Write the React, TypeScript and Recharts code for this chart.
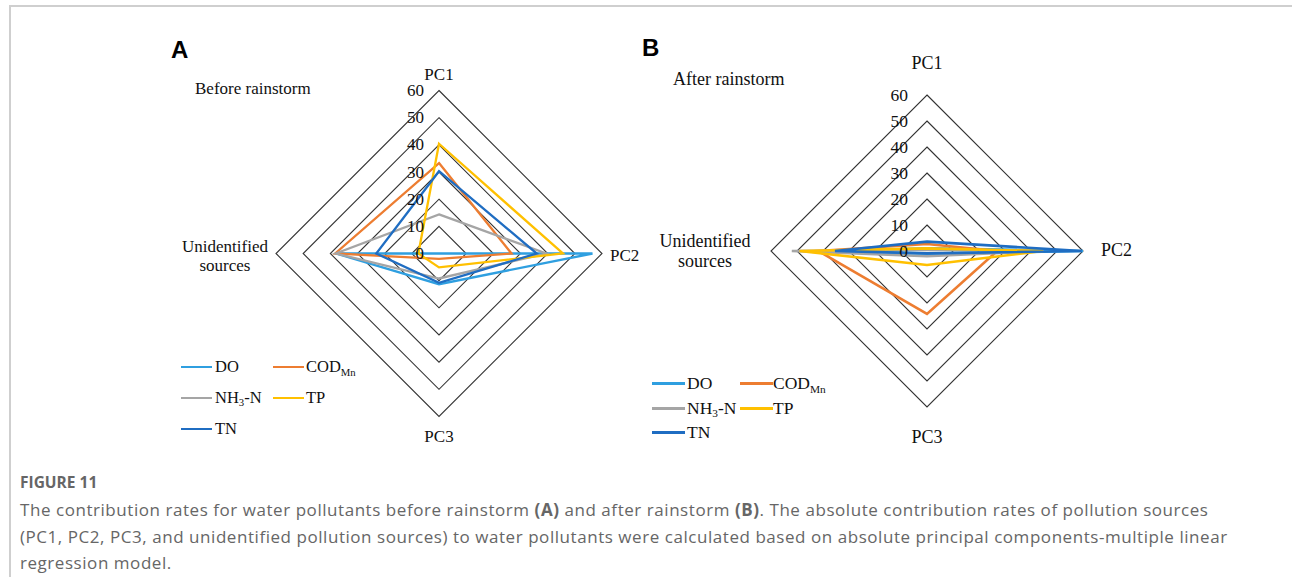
import React from 'react';
import { RadarChart, Radar, PolarGrid, PolarAngleAxis, PolarRadiusAxis, Legend } from 'recharts';

const categories = ['PC1', 'PC2', 'PC3', 'Unidentified sources'];
const radiusTicks = [0, 10, 20, 30, 40, 50, 60];
const seriesNames = ['DO', 'COD', 'NH3-N', 'TP', 'TN'];
const seriesColors = ['#2f9fe0', '#ed7d31', '#a5a5a5', '#ffc000', '#1f6dc2'];

// Before rainstorm (A): PC1, PC2, PC3, Unidentified
const beforeDO = [0, 56.5, 11.3, 38];
const beforeCOD = [33.3, 26.7, 2, 38.2];
const beforeNH3 = [14.4, 39.5, 9.2, 38];
const beforeTP = [40.4, 45.6, 5.1, 7.6];
const beforeTN = [30.3, 36, 10.8, 23.1];

// After rainstorm (B)
const afterDO = [1, 60, 1, 33];
const afterCOD = [2.7, 27, 24.2, 41.8];
const afterNH3 = [0.5, 45, 2, 52];
const afterTP = [1, 44.6, 5.4, 49];
const afterTN = [3.6, 59.5, 0.9, 35.4];

const FONT = '"Liberation Serif", "Times New Roman", serif';

function buildRows(series: number[][]) {
  return categories.map((c, i) => {
    const row: any = { axis: c };
    series.forEach((s, k) => {
      row['s' + k] = s[i];
    });
    return row;
  });
}

const dataA = buildRows([beforeDO, beforeCOD, beforeNH3, beforeTP, beforeTN]);
const dataB = buildRows([afterDO, afterCOD, afterNH3, afterTP, afterTN]);

type Geo = {
  cx: number;
  cy: number;
  r: number;
  fs: number;
  tickFs: number;
  tickGap: number;
  pc1Dy: number;
  pc2Dx: number;
  pc2Dy: number;
  pc3Dy: number;
  unDx: number;
  unDy1: number;
  unDy2: number;
};

const geoA: Geo = {
  cx: 439, cy: 253.5, r: 163, fs: 17, tickFs: 17, tickGap: 15,
  pc1Dy: -10.5, pc2Dx: 8, pc2Dy: 7, pc3Dy: 25, unDx: -51, unDy1: -2, unDy2: 17,
};
const geoB: Geo = {
  cx: 281, cy: 251, r: 156, fs: 18, tickFs: 17.5, tickGap: 19,
  pc1Dy: -26, pc2Dx: 18, pc2Dy: 5, pc3Dy: 36, unDx: -66, unDy1: -4, unDy2: 16,
};

function makeAngleTick(g: Geo) {
  return (props: any) => {
    const v = props.payload && props.payload.value;
    const common = { fontFamily: FONT, fontSize: g.fs, fill: '#111' };
    if (v === 'PC1') {
      return (
        <text x={g.cx} y={g.cy - g.r + g.pc1Dy} textAnchor="middle" {...common}>PC1</text>
      );
    }
    if (v === 'PC2') {
      return (
        <text x={g.cx + g.r + g.pc2Dx} y={g.cy + g.pc2Dy} textAnchor="start" {...common}>PC2</text>
      );
    }
    if (v === 'PC3') {
      return (
        <text x={g.cx} y={g.cy + g.r + g.pc3Dy} textAnchor="middle" {...common}>PC3</text>
      );
    }
    return (
      <text textAnchor="middle" {...common}>
        <tspan x={g.cx - g.r + g.unDx} y={g.cy + g.unDy1}>Unidentified</tspan>
        <tspan x={g.cx - g.r + g.unDx} y={g.cy + g.unDy2}>sources</tspan>
      </text>
    );
  };
}

function makeRadiusTick(g: Geo) {
  return (props: any) => (
    <text
      x={props.x - g.tickGap}
      y={props.y + 5.5}
      textAnchor="end"
      fontFamily={FONT}
      fontSize={g.tickFs}
      fill="#111"
    >
      {props.payload.value}
    </text>
  );
}

function LegendLabel({ name }: { name: string }) {
  if (name === 'COD') {
    return (
      <span>
        COD<span style={{ fontSize: '0.65em', position: 'relative', top: '0.35em' }}>Mn</span>
      </span>
    );
  }
  if (name === 'NH3-N') {
    return (
      <span>
        NH<span style={{ fontSize: '0.65em', position: 'relative', top: '0.3em' }}>3</span>-N
      </span>
    );
  }
  return <span>{name}</span>;
}

type LegendGeo = {
  lineX: number[];
  lineW: number;
  textX: number[];
  rowY: number[];
  sw: number;
  fs: number;
};

const legendA: LegendGeo = {
  lineX: [181, 273],
  lineW: 31,
  textX: [215, 306],
  rowY: [367, 398, 429],
  sw: 2.5,
  fs: 16.5,
};
const legendB: LegendGeo = {
  lineX: [6, 94],
  lineW: 33,
  textX: [41, 127],
  rowY: [383, 408, 432],
  sw: 3,
  fs: 17.5,
};

function makeLegend(lg: LegendGeo) {
  return () => (
    <div style={{ position: 'relative', width: 640, height: 450, fontFamily: FONT, fontSize: lg.fs, color: '#111' }}>
      {seriesNames.map((n, i) => {
        const col = i % 2;
        const row = Math.floor(i / 2);
        const y = lg.rowY[row];
        return (
          <React.Fragment key={n}>
            <div
              style={{
                position: 'absolute',
                left: lg.lineX[col],
                top: y - lg.sw / 2,
                width: lg.lineW,
                height: lg.sw,
                background: seriesColors[i],
              }}
            />
            <div
              style={{
                position: 'absolute',
                left: lg.textX[col],
                top: y - 10,
                lineHeight: '20px',
                whiteSpace: 'nowrap',
              }}
            >
              <LegendLabel name={n} />
            </div>
          </React.Fragment>
        );
      })}
    </div>
  );
}

function Panel({ data, g, lg, sw }: { data: any[]; g: Geo; lg: LegendGeo; sw: number }) {
  return (
    <RadarChart
      width={646}
      height={450}
      data={data}
      cx={g.cx}
      cy={g.cy}
      outerRadius={g.r}
      margin={{ top: 0, right: 0, bottom: 0, left: 0 }}
    >
      <PolarGrid gridType="polygon" radialLines={false} stroke="#333" strokeWidth={1.1} />
      <PolarAngleAxis dataKey="axis" tick={makeAngleTick(g)} tickLine={false} axisLine={false} />
      <PolarRadiusAxis
        angle={90}
        domain={[0, 60]}
        ticks={radiusTicks as any}
        tickCount={7}
        axisLine={false}
        tick={makeRadiusTick(g)}
      />
      {seriesNames.map((n, i) => (
        <Radar
          key={n}
          name={n}
          dataKey={'s' + i}
          stroke={seriesColors[i]}
          strokeWidth={sw}
          fill="none"
          fillOpacity={0}
          dot={false}
          isAnimationActive={false}
        />
      ))}
      <Legend
        content={makeLegend(lg)}
        wrapperStyle={{ position: 'absolute', left: 0, top: 0, width: 640, height: 450, pointerEvents: 'none' }}
      />
    </RadarChart>
  );
}

const capFont = '"Open Sans", "Noto Sans", sans-serif';
const capStyle: React.CSSProperties = {
  position: 'absolute',
  left: 20,
  fontFamily: capFont,
  fontSize: 17,
  letterSpacing: '0.55px',
  lineHeight: '20px',
  color: '#666',
  whiteSpace: 'nowrap',
};

export default function App() {
  return (
    <div style={{ position: 'absolute', left: 0, top: 0, width: 1292, height: 586, background: '#fff', overflow: 'hidden' }}>
      <div style={{ position: 'absolute', left: 9, top: 5, width: 1283, height: 1.5, background: '#cfcfcf' }} />
      <div style={{ position: 'absolute', left: 9, top: 5, width: 1.5, height: 572, background: '#cfcfcf' }} />

      <div style={{ position: 'absolute', left: 0, top: 0 }}>
        <Panel data={dataA} g={geoA} lg={legendA} sw={2.3} />
      </div>
      <div style={{ position: 'absolute', left: 646, top: 0 }}>
        <Panel data={dataB} g={geoB} lg={legendB} sw={2.6} />
      </div>

      <div style={{ position: 'absolute', left: 171, top: 36, fontFamily: '"Liberation Sans", Arial, sans-serif', fontWeight: 700, fontSize: 24, lineHeight: '28px', color: '#000' }}>A</div>
      <div style={{ position: 'absolute', left: 642, top: 34, fontFamily: '"Liberation Sans", Arial, sans-serif', fontWeight: 700, fontSize: 24, lineHeight: '28px', color: '#000' }}>B</div>
      <div style={{ position: 'absolute', left: 195, top: 79, fontFamily: FONT, fontSize: 17, lineHeight: '20px', color: '#111', whiteSpace: 'nowrap' }}>Before rainstorm</div>
      <div style={{ position: 'absolute', left: 673, top: 69, fontFamily: FONT, fontSize: 18, lineHeight: '20px', color: '#111', whiteSpace: 'nowrap' }}>After rainstorm</div>

      <div style={{ position: 'absolute', left: 20, top: 472, fontFamily: capFont, fontWeight: 700, fontSize: 15.5, lineHeight: '20px', color: '#666', whiteSpace: 'nowrap' }}>FIGURE 11</div>
      <div style={{ ...capStyle, top: 500 }}>
        The contribution rates for water pollutants before rainstorm <b>(A)</b> and after rainstorm <b>(B)</b>. The absolute contribution rates of pollution sources
      </div>
      <div style={{ ...capStyle, top: 527 }}>
        (PC1, PC2, PC3, and unidentified pollution sources) to water pollutants were calculated based on absolute principal components-multiple linear
      </div>
      <div style={{ ...capStyle, top: 553 }}>
        regression model.
      </div>
    </div>
  );
}
